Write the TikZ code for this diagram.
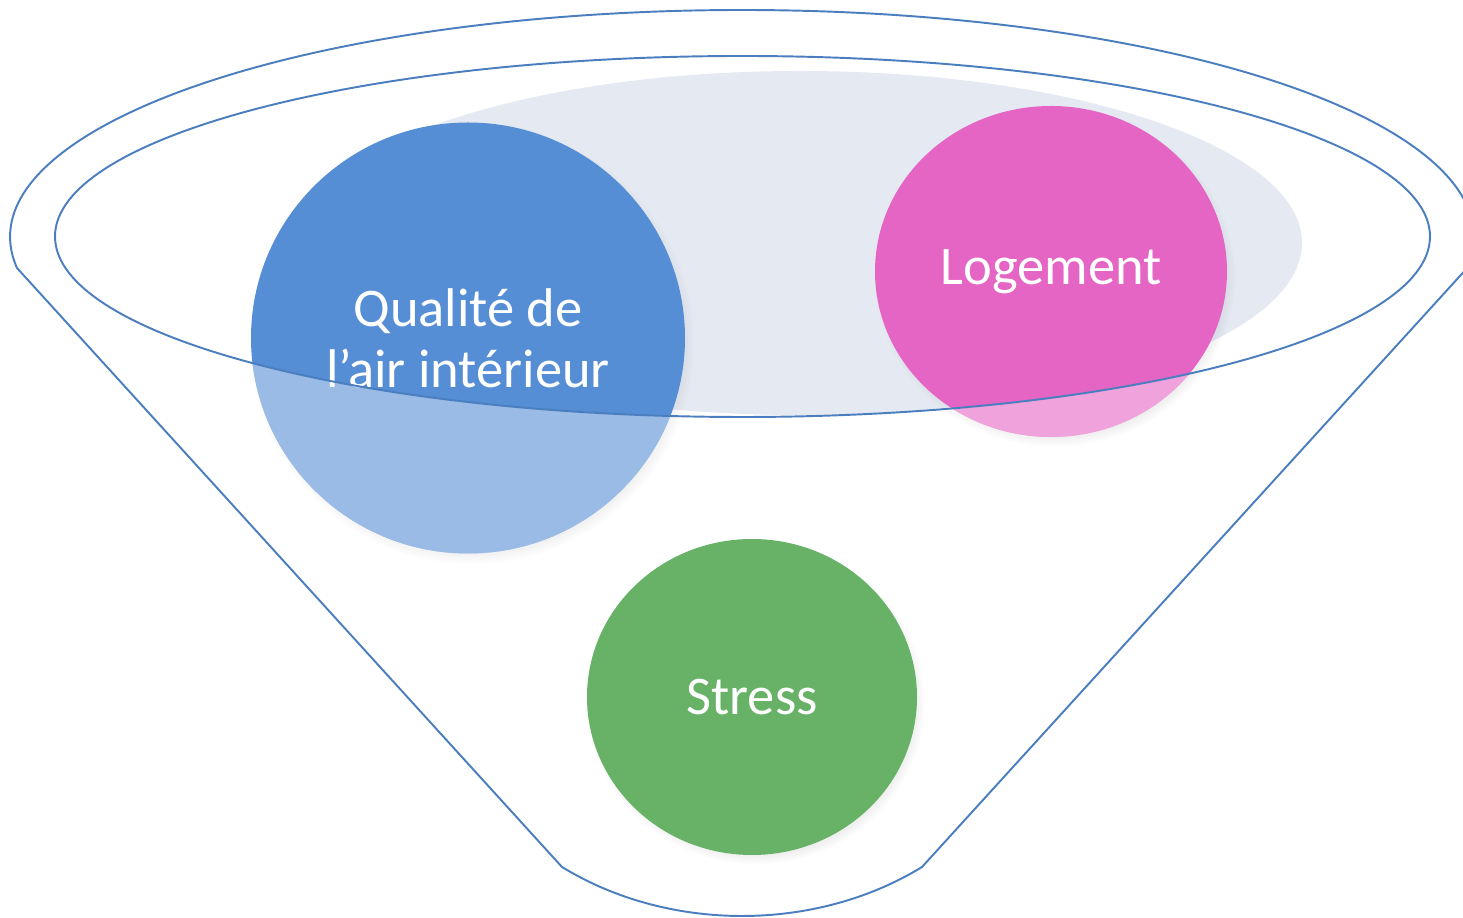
\documentclass[tikz,border=0pt]{standalone}
\usepackage{fontspec}
\setmainfont{Carlito}
\usetikzlibrary{shapes.geometric,shadows,fadings}
\definecolor{rimblue}{HTML}{4A7EBF}
\definecolor{haze}{HTML}{E4E9F2}
\definecolor{airblue}{HTML}{558ED5}
\definecolor{homepink}{HTML}{E565C4}
\definecolor{stressgreen}{HTML}{67B267}

\tikzset{
  topic/.style={ellipse, inner sep=0pt, text=white, align=center,
    font=\fontsize{15.5}{17.3}\selectfont,
    circular drop shadow={shadow xshift=1pt, shadow yshift=-1.5pt,
      shadow scale=1.025, opacity=0.3}},
  rim/.style={rimblue, line width=0.55pt, line join=round}
}

\begin{document}
\begin{tikzpicture}
  \useasboundingbox (0,0) rectangle (14.63,9.18);
  \clip (0,0) rectangle (14.63,9.18);
  \coordinate (mouth) at (7.425,6.815);

  % pale disc inside the mouth
  \fill[haze] (8.00,6.75) ellipse [x radius=5.02, y radius=1.72];

  \node[topic, fill=airblue, minimum width=4.34cm, minimum height=4.31cm]
    (air) at (4.68,5.80) {Qualité de\\l’air intérieur};
  \node[topic, fill=homepink, minimum width=3.52cm, minimum height=3.31cm]
    (home) at (10.51,6.465) {Logement};
  \node[topic, fill=stressgreen, minimum width=3.30cm, minimum height=3.16cm]
    (stress) at (7.52,2.21) {Stress};

  % whatever hangs below the rim gets washed out
  \foreach \n/\rx/\ry in {air/2.17/2.155, home/1.76/1.655} {
    \begin{scope}
      \clip (\n.center) ellipse [x radius=\rx, y radius=\ry];
      \fill[white, fill opacity=0.4, even odd rule]
        (0,0) rectangle (14.63,9.18)
        (mouth) ellipse [x radius=6.875, y radius=1.805];
    \end{scope}
  }

  % rim and body of the funnel
  \draw[rim] (mouth) ellipse [x radius=6.875, y radius=1.805];
  \draw[rim] (5.62,0.51) -- (0.17,6.50)
    arc [start angle=187.85, end angle=-7.85, x radius=7.32, y radius=2.27]
    -- (9.22,0.51)
    arc [start angle=306.87, end angle=233.13, x radius=3.0, y radius=2.45]
    -- cycle;
\end{tikzpicture}
\end{document}
